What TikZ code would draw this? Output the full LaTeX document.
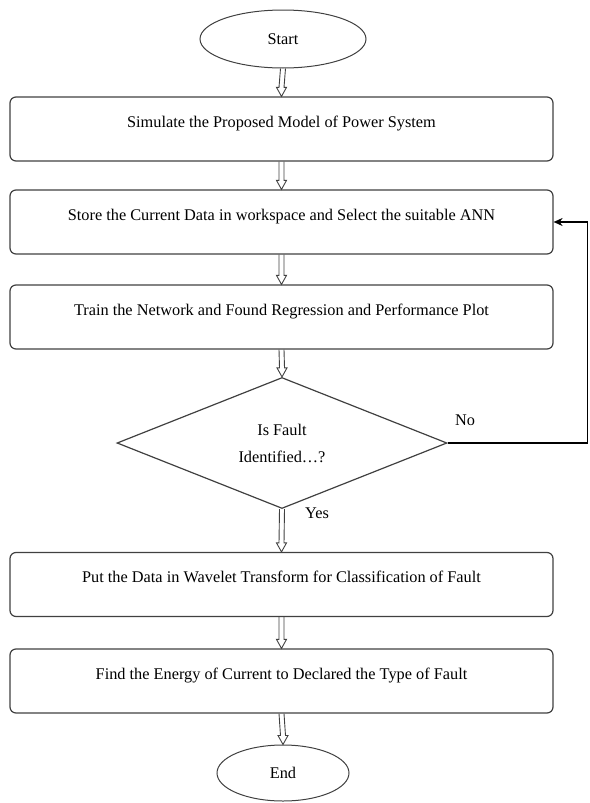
\documentclass[tikz,border=0pt]{standalone}
\usepackage{fontspec}
\setmainfont{Liberation Serif}
\usetikzlibrary{shapes.geometric,arrows.meta,calc}
\definecolor{boxgray}{HTML}{404040}
\newcommand\hollowarrow[2]{%
  \draw[harrow] ($(#1.south)+(-2.5,0)$) -- ($(#2.north)+(-2.5,-9)$) -- ++(-2.5,0) -- (#2.north)
    -- ($(#2.north)+(5,-9)$) -- ++(-2.5,0) -- ($(#1.south)+(2.5,0)$);}
\begin{document}
\begin{tikzpicture}[x=1pt,y=-1pt,
  txt/.style={font=\fontsize{16.3}{19}\selectfont},
  procbox/.style={draw=boxgray, line width=1.2pt, rounded corners=6pt, minimum width=543pt,
     minimum height=64pt, inner xsep=0pt, inner ysep=6pt, text height=24pt, text depth=28pt, txt},
  term/.style={draw=boxgray, line width=1pt, ellipse, inner sep=0pt, txt},
  decision/.style={draw=boxgray, line width=1.2pt, diamond, inner sep=0pt, minimum width=330pt,
     minimum height=131pt, align=center, txt},
  harrow/.style={draw=boxgray, line width=0.9pt},
  fb/.style={draw=black, line width=1.5pt, -{Stealth[length=9pt,width=8pt]}}]
\useasboundingbox (0,0) rectangle (589,803);
\node[term, minimum width=166pt, minimum height=58pt] (start) at (283,39) {Start};
\node[procbox] (b1) at (281.5,129) {Simulate the Proposed Model of Power System};
\node[procbox] (b2) at (281.5,222) {Store the Current Data in workspace and Select the suitable ANN};
\node[procbox] (b3) at (281.5,317) {Train the Network and Found Regression and Performance Plot};
\node[decision] (d) at (282,443) {\raisebox{-3pt}{Is Fault}\\[11pt]Identified…?};
\node[procbox] (b4) at (281.5,584.5) {Put the Data in Wavelet Transform for Classification of Fault};
\node[procbox] (b5) at (281.5,681) {Find the Energy of Current to Declared the Type of Fault};
\node[term, minimum width=132pt, minimum height=56pt] (end) at (283,773) {End};
\hollowarrow{start}{b1}
\hollowarrow{b1}{b2}
\hollowarrow{b2}{b3}
\hollowarrow{b3}{d}
\hollowarrow{d}{b4}
\hollowarrow{b4}{b5}
\hollowarrow{b5}{end}
\coordinate (turn) at ($(d.east)+(140,0)$);
\draw[fb] (d.east) -- (turn) |- (b2.east);
\node[txt] (no) at (465,420) {No};
\node[txt] (yes) at (317,513) {Yes};
\end{tikzpicture}
\end{document}
